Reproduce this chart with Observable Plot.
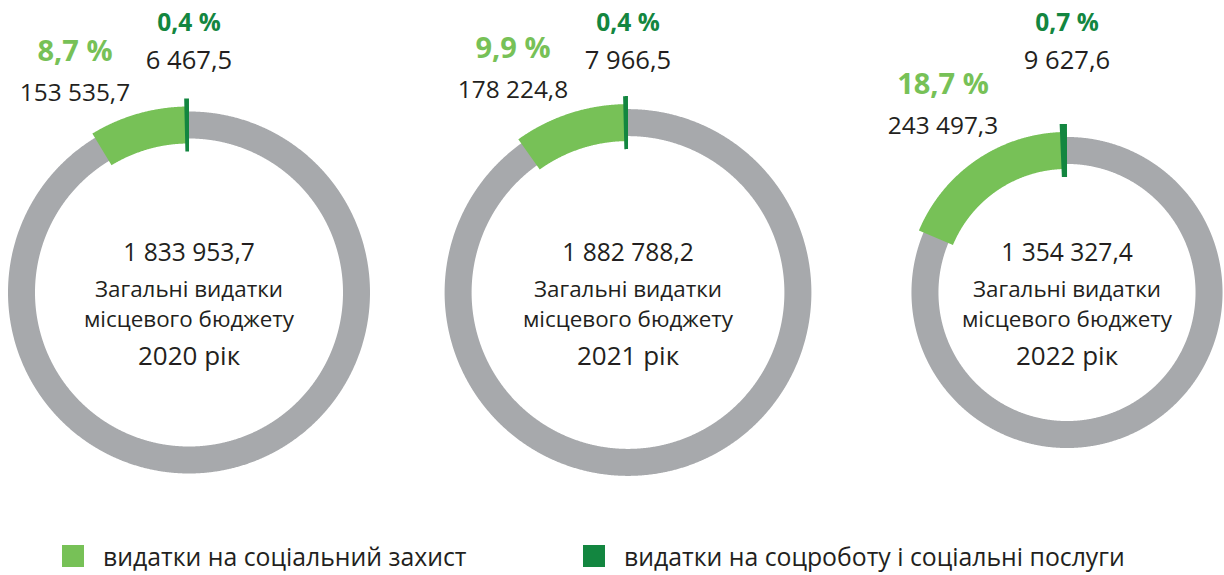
<!DOCTYPE html>
<html><head><meta charset="utf-8">
<script src="https://cdn.jsdelivr.net/npm/d3@7"></script>
<script src="https://cdn.jsdelivr.net/npm/@observablehq/plot@0.6"></script>
<style>
body{margin:0;background:#fff;font-family:"Open Sans",Lato,sans-serif;color:#231F20;}
#wrap{position:relative;width:1224px;height:575px;overflow:hidden;}
#legend{position:absolute;left:0;top:541px;width:1224px;height:30px;font-size:24.8px;}
.item{position:absolute;top:0;display:flex;align-items:center;height:30px;}
.sw{width:22px;height:22px;margin-right:19px;}
</style></head><body>
<div id="wrap"><div id="chart"></div><div id="legend"></div></div>
<script>
// ---- data ----
const years = ["2020 рік", "2021 рік", "2022 рік"];
const totals = [1833953.7, 1882788.2, 1354327.4];
const socialProtection = [153535.7, 178224.8, 243497.3];
const socialServices = [6467.5, 7966.5, 9627.6];
const socialProtectionPct = [8.7, 9.9, 18.7];
const socialServicesPct = [0.4, 0.4, 0.7];
const centerLines = ["Загальні видатки", "місцевого бюджету"];
const seriesNames = ["видатки на соціальний захист", "видатки на соцроботу і соціальні послуги"];

// ---- style / layout ----
const colors = {grey: "#A7A9AC", light: "#77C157", dark: "#138640", text: "#231F20"};
const font = '"Open Sans", Lato, sans-serif';
const W = 1224, H = 530;
const cx0 = 188.5, step = 439, cy = 292, R0 = 181, ring = 27;
const sideLabelOffset = [{dx: -114, top: -6}, {dx: -115, top: -6}, {dx: -124, top: 2}];

const loc = d3.formatLocale({decimal: ",", thousands: " ", grouping: [3], currency: ["", ""]});
const fmtNum = loc.format(",.1f");
const fmtPct = v => loc.format(".1f")(v) + " %";

const geom = years.map((y, i) => {
  const rOuter = R0 * Math.sqrt(totals[i] / totals[0]);
  return {i, cx: cx0 + i * step, cy, rOuter, rMid: rOuter - ring / 2};
});

function arcPts(g, a0, a1, r, key) {
  const n = Math.max(2, Math.ceil(Math.abs(a1 - a0) / (0.25 * Math.PI / 180)));
  const pts = [];
  for (let k = 0; k <= n; k++) {
    const a = a0 + (a1 - a0) * k / n;
    pts.push({key, x: g.cx + r * Math.sin(a), y: g.cy - r * Math.cos(a)});
  }
  return pts;
}

const greyPts = geom.flatMap(g => arcPts(g, 0, 2 * Math.PI, g.rMid, "g" + g.i).slice(0, -1));
const lightPts = geom.flatMap(g => arcPts(g, -socialProtectionPct[g.i] / 100 * 2 * Math.PI, 0, g.rMid, "l" + g.i));
const darkPts = geom.flatMap(g => arcPts(g, -socialServicesPct[g.i] / 100 * 2 * Math.PI, 0, g.rMid, "d" + g.i));

const texts = [];
geom.forEach(g => {
  const i = g.i, o = sideLabelOffset[i];
  const sideBase = g.cy - g.rOuter - 5 + o.top;
  // dark green share (top)
  texts.push({x: g.cx, y: 30, t: fmtPct(socialServicesPct[i]), fs: 24.5, fw: 700, c: colors.dark});
  texts.push({x: g.cx, y: 68, t: fmtNum(socialServices[i]), fs: 25.6, fw: 400, c: colors.text});
  // light green share (left)
  texts.push({x: g.cx + o.dx, y: sideBase - 40, t: fmtPct(socialProtectionPct[i]), fs: 29, fw: 700, c: colors.light});
  texts.push({x: g.cx + o.dx, y: sideBase, t: fmtNum(socialProtection[i]), fs: 24.4, fw: 400, c: colors.text});
  // center
  texts.push({x: g.cx, y: g.cy - 32, t: fmtNum(totals[i]), fs: 24.6, fw: 400, c: colors.text});
  texts.push({x: g.cx, y: g.cy + 4.5, t: centerLines[0], fs: 22.4, fw: 400, c: colors.text});
  texts.push({x: g.cx, y: g.cy + 34.5, t: centerLines[1], fs: 22.4, fw: 400, c: colors.text});
  texts.push({x: g.cx, y: g.cy + 72.5, t: years[i], fs: 26, fw: 400, c: colors.text});
});

const textMarks = d3.groups(texts, d => d.fs + "|" + d.fw + "|" + d.c).map(([k, rows]) =>
  Plot.text(rows, {x: "x", y: "y", text: "t", fontSize: rows[0].fs, fontWeight: rows[0].fw, fill: rows[0].c,
    textAnchor: "middle", lineAnchor: "bottom"}));

const chart = Plot.plot({
  width: W, height: H, margin: 0,
  style: {fontFamily: font, background: "transparent"},
  x: {type: "linear", domain: [0, W], range: [0, W], axis: null},
  y: {type: "linear", domain: [0, H], range: [0, H], axis: null},
  marks: [
    Plot.line(greyPts, {x: "x", y: "y", z: "key", stroke: colors.grey, strokeWidth: ring, curve: "linear-closed", strokeLinejoin: "round"}),
    Plot.line(lightPts, {x: "x", y: "y", z: "key", stroke: colors.light, strokeWidth: 37, strokeLinecap: "butt"}),
    Plot.line(darkPts, {x: "x", y: "y", z: "key", stroke: colors.dark, strokeWidth: 53, strokeLinecap: "butt"}),
    ...textMarks
  ]
});
document.getElementById("chart").appendChild(chart);

// legend
const legend = document.getElementById("legend");
const legendX = [62, 583];
const legendColors = [colors.light, colors.dark];
seriesNames.forEach((name, i) => {
  const it = document.createElement("div");
  it.className = "item";
  it.style.left = legendX[i] + "px";
  it.innerHTML = `<div class="sw" style="background:${legendColors[i]}"></div><span>${name}</span>`;
  legend.appendChild(it);
});
</script></body></html>
